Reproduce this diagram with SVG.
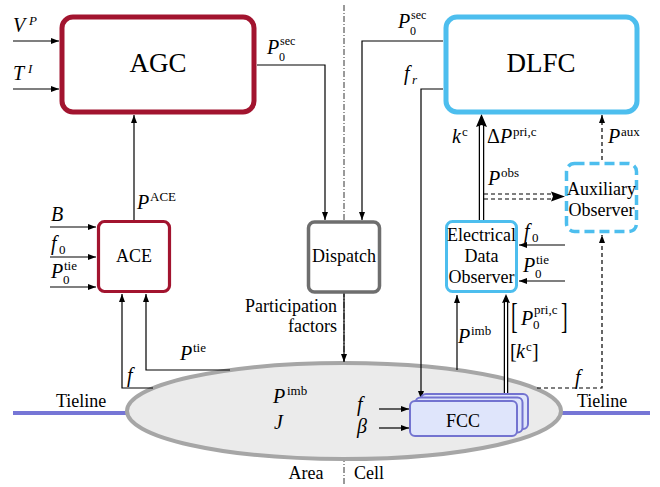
<svg xmlns="http://www.w3.org/2000/svg" width="660" height="487" viewBox="0 0 660 487">
<defs>
<marker id="ah" markerUnits="userSpaceOnUse" markerWidth="9" markerHeight="7" refX="8" refY="3" orient="auto">
<path d="M0,0 L8,3 L0,6 z" fill="#000"/>
</marker>
<style>
text{font-family:'Liberation Serif','DejaVu Serif',serif;fill:#000}
.m{font-style:italic;font-size:20px}
.s{font-size:13px}
.ss{font-size:12px}
.si{font-style:italic;font-size:13px}
.c{fill:none;stroke:#000;stroke-width:1.2}
.a{marker-end:url(#ah)}
.d{stroke-dasharray:4 3}
.red{fill:#fff;stroke:#a2142f}
.blue{fill:#fff;stroke:#4dbeee}
</style>
</defs>
<rect width="660" height="487" fill="#fff"/>
<line x1="344" y1="5" x2="344" y2="485" stroke="#000" stroke-width="0.8" stroke-dasharray="6 2 1 2"/>
<g id="tielines">
<line x1="13" y1="413" x2="128" y2="413" stroke="#7676d6" stroke-width="4"/>
<line x1="560" y1="413" x2="650" y2="413" stroke="#7676d6" stroke-width="4"/>
<text x="56" y="407" font-size="18">Tieline</text>
<text x="577" y="407" font-size="18">Tieline</text>
</g>
<g id="area">
<ellipse cx="344" cy="411" rx="217" ry="48" fill="#ebebeb" stroke="#a6a6a6" stroke-width="4"/>
<text class="m" x="273" y="403">P</text><text class="s" x="287" y="395">imb</text>
<text class="m" x="274" y="429">J</text>
<text x="306" y="479" font-size="18" text-anchor="middle">Area</text>
<text x="369" y="479" font-size="18" text-anchor="middle">Cell</text>
</g>
<g id="connectors">
<path class="c a" d="M13,41 H59"/>
<path class="c a" d="M13,89 H59"/>
<path class="c a" d="M257,65 H325 V220"/>
<path class="c a" d="M443,41 H362 V220"/>
<path class="c a" d="M443,89 H421 V399"/>
<path class="c a" d="M134,220 V115"/>
<path class="c a" d="M50,227 H96"/>
<path class="c a" d="M50,257 H96"/>
<path class="c a" d="M50,287 H96"/>
<path class="c a" d="M153,388 H122 V294"/>
<path class="c a" d="M230,370 H146 V294"/>
<path class="c a" d="M344,293 V362"/>
<path class="c a" d="M457,370 V295"/>
<path class="c a d" d="M602,160 V115"/>
<path class="c a d" d="M537,388 H602 V235"/>
<path class="c a" d="M565,245 H519"/>
<path class="c a" d="M565,281 H519"/>
<path class="c a" d="M379,409 H409"/>
<path class="c a" d="M379,428 H409"/>
<line x1="481.5" y1="220" x2="481.5" y2="124" stroke="#000" stroke-width="5.5"/>
<line x1="481.5" y1="220" x2="481.5" y2="125" stroke="#fff" stroke-width="3"/>
<polygon points="481.5,114 476,127 481.5,125 487,127" fill="#000"/>
<path class="c d" d="M484,194 H554"/>
<path class="c d" d="M484,199 H554"/>
<polygon points="565,196.5 551,191.5 553,196.5 551,201.5" fill="#000"/>
<line x1="506" y1="397" x2="506" y2="301" stroke="#000" stroke-width="4.5"/>
<line x1="506" y1="397" x2="506" y2="302" stroke="#fff" stroke-width="2"/>
<polygon points="506,294 502,303 506,302 510,303" fill="#000"/>
</g>
<g id="agc">
<rect class="red" x="62" y="17" width="192" height="95" rx="11" stroke-width="5"/>
<text x="158" y="72" font-size="27" text-anchor="middle">AGC</text>
</g>
<g id="dlfc">
<rect class="blue" x="446" y="17" width="191" height="95" rx="11" stroke-width="5"/>
<text x="541" y="72" font-size="27" text-anchor="middle">DLFC</text>
</g>
<g id="ace">
<rect class="red" x="98.5" y="221.5" width="71" height="70" rx="6" stroke-width="3.2"/>
<text x="134" y="262" font-size="18" text-anchor="middle">ACE</text>
</g>
<g id="dispatch">
<rect x="308.5" y="222" width="71" height="70" rx="6" fill="#fff" stroke="#6e6e6e" stroke-width="3.5"/>
<text x="344" y="262" font-size="18" text-anchor="middle">Dispatch</text>
</g>
<g id="edo">
<rect class="blue" x="446.5" y="221.5" width="70" height="70" rx="6" stroke-width="3"/>
<text x="481.5" y="241" font-size="18" text-anchor="middle">Electrical</text>
<text x="481.5" y="262" font-size="18" text-anchor="middle">Data</text>
<text x="481.5" y="283" font-size="18" text-anchor="middle">Observer</text>
</g>
<g id="aux">
<rect class="blue" x="566.5" y="163.5" width="70" height="68" rx="8" stroke-width="3.5" stroke-dasharray="10 5"/>
<text x="601.5" y="195" font-size="18" text-anchor="middle">Auxiliary</text>
<text x="601.5" y="216" font-size="18" text-anchor="middle">Observer</text>
</g>
<g id="fcc">
<rect x="421" y="394" width="107" height="35" rx="5" fill="#dfe5fb" stroke="#7373d0" stroke-width="2"/>
<rect x="415.5" y="397.5" width="107" height="35" rx="5" fill="#dfe5fb" stroke="#7373d0" stroke-width="2"/>
<rect x="410" y="401" width="107" height="35" rx="5" fill="#dfe5fb" stroke="#7373d0" stroke-width="2"/>
<text x="463" y="427" font-size="18" text-anchor="middle">FCC</text>
</g>
<g id="labels">
<text class="m" x="13" y="32">V</text><text class="si" x="29" y="25">P</text>
<text class="m" x="13" y="80">T</text><text class="si" x="28" y="73">I</text>
<text class="m" x="267" y="54">P</text><text class="ss" x="279" y="61">0</text><text class="ss" x="280" y="45">sec</text>
<text class="m" x="398" y="28">P</text><text class="ss" x="410" y="35">0</text><text class="ss" x="411" y="19">sec</text>
<text class="m" x="404" y="80">f</text><text class="si" x="412" y="84">r</text>
<text class="m" x="137" y="209">P</text><text class="s" x="150" y="201">ACE</text>
<text class="m" x="51" y="221">B</text>
<text class="m" x="51" y="250">f</text><text class="s" x="59" y="254">0</text>
<text class="m" x="51" y="278">P</text><text class="s" x="63" y="284">0</text><text class="s" x="64" y="270">tie</text>
<text class="m" x="180" y="360">P</text><text class="s" x="193" y="352">tie</text>
<text class="m" x="127" y="382">f</text>
<text class="m" x="357" y="411">f</text>
<text class="m" x="357" y="433">β</text>
<text class="m" x="452" y="143">k</text><text class="s" x="462" y="136">c</text>
<text x="487" y="143" font-size="20">Δ</text><text class="m" x="500" y="143">P</text><text class="s" x="513" y="136">pri,c</text>
<text class="m" x="608" y="143">P</text><text class="s" x="621" y="136">aux</text>
<text class="m" x="488" y="185">P</text><text class="s" x="501" y="177">obs</text>
<text class="m" x="524" y="238">f</text><text class="s" x="532" y="242">0</text>
<text class="m" x="523" y="272">P</text><text class="s" x="535" y="278">0</text><text class="s" x="536" y="264">tie</text>
<text class="m" x="458" y="343">P</text><text class="s" x="471" y="335">imb</text>
<text x="0" y="0" font-size="20" transform="translate(511,328) scale(1,1.75)">[</text><text class="m" x="521" y="325">P</text><text class="s" x="533" y="329">0</text><text class="s" x="534" y="314">pri,c</text><text x="0" y="0" font-size="20" transform="translate(561,328) scale(1,1.75)">]</text>
<text x="510" y="358" font-size="20">[</text><text class="m" x="516" y="358">k</text><text class="s" x="526" y="351">c</text><text x="532" y="358" font-size="20">]</text>
<text class="m" x="575" y="384">f</text>
<text x="337" y="312" font-size="18" text-anchor="end">Participation</text>
<text x="337" y="332" font-size="18" text-anchor="end">factors</text>
</g>
</svg>
